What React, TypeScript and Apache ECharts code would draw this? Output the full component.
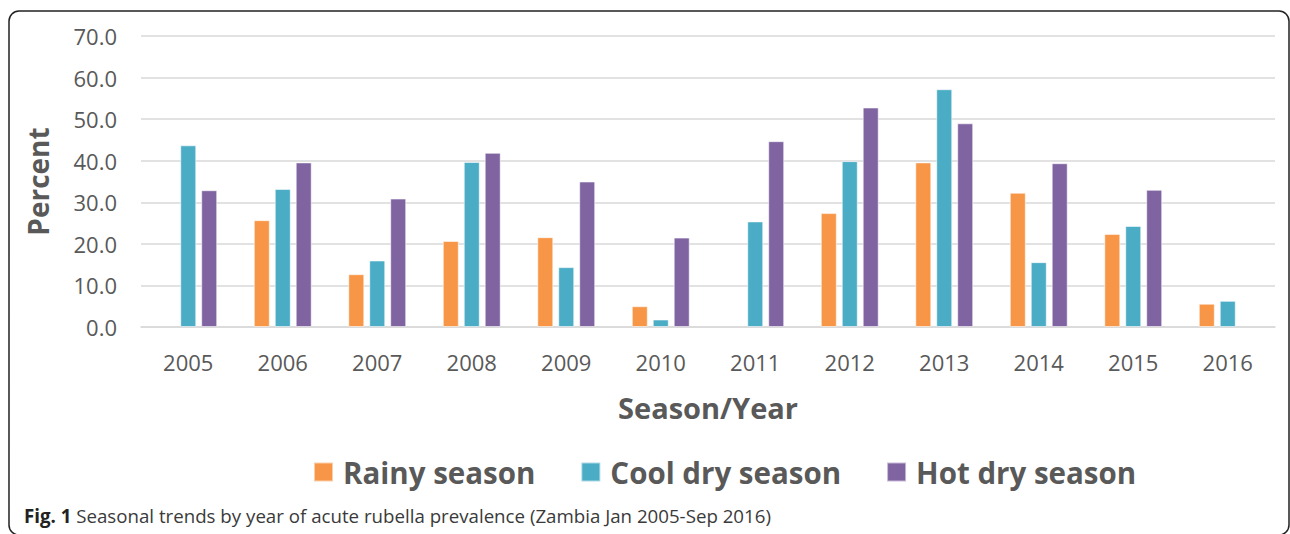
import React, { useEffect, useRef } from "react";
import * as echarts from "echarts";

const years = ["2005", "2006", "2007", "2008", "2009", "2010", "2011", "2012", "2013", "2014", "2015", "2016"];
const rainy = [null, 25.7, 12.7, 20.7, 21.6, 5.0, null, 27.4, 39.6, 32.3, 22.4, 5.6];
const coolDry = [43.7, 33.2, 16.0, 39.7, 14.4, 1.8, 25.4, 39.9, 57.2, 15.6, 24.3, 6.3];
const hotDry = [32.9, 39.6, 30.9, 41.9, 35.0, 21.5, 44.7, 52.8, 49.0, 39.4, 33.0, null];
const seriesNames = ["Rainy season", "Cool dry season", "Hot dry season"];
const colors = ["#F79646", "#4BACC6", "#8064A2"];

const FONT = "'Open Sans', 'Noto Sans', sans-serif";

export default function App() {
  const ref = useRef<HTMLDivElement>(null);
  useEffect(() => {
    document.body.style.margin = "0";
    const chart = echarts.init(ref.current!, null, { renderer: "svg" });
    const datasets = [rainy, coolDry, hotDry];
    chart.setOption({
      animation: false,
      textStyle: { fontFamily: FONT },
      grid: { left: 141, right: 15, top: 36, bottom: 207, containLabel: false },
      legend: {
        data: seriesNames,
        left: 313,
        top: 457,
        padding: 0,
        itemWidth: 19,
        itemHeight: 19,
        itemGap: 45,
        icon: "rect",
        textStyle: { fontSize: 29.5, fontWeight: "bold", color: "#595959", fontFamily: FONT, padding: [0, 0, 0, 5] },
      },
      xAxis: {
        type: "category",
        data: years,
        axisLine: { show: true, lineStyle: { color: "#d9d9d9", width: 1.5 } },
        axisTick: { show: false },
        axisLabel: { fontSize: 22, color: "#595959", margin: 24 },
        name: "Season/Year",
        nameLocation: "middle",
        nameGap: 66,
        nameTextStyle: { fontSize: 29, fontWeight: "bold", color: "#595959", fontFamily: FONT },
      },
      yAxis: {
        type: "value",
        min: 0,
        max: 70,
        interval: 10,
        axisLine: { show: false },
        axisTick: { show: false },
        splitLine: { lineStyle: { color: "#d9d9d9", width: 1.5 } },
        axisLabel: { fontSize: 22, color: "#595959", margin: 24, formatter: (v: number) => v.toFixed(1) },
        name: "Percent",
        nameLocation: "middle",
        nameGap: 89,
        nameTextStyle: { fontSize: 28, fontWeight: "bold", color: "#595959", fontFamily: FONT },
      },
      series: seriesNames.map((n, i) => ({
        name: n,
        type: "bar",
        data: datasets[i],
        barWidth: 16,
        barGap: "31%",
        itemStyle: { color: colors[i], borderColor: "rgba(255,255,255,0.55)", borderWidth: 1 },
      })),
      graphic: [
        {
          type: "rect",
          shape: { x: 9, y: 11, width: 1280, height: 524, r: 10 },
          style: { fill: "none", stroke: "#222", lineWidth: 1.5 },
          silent: true,
        },
        {
          type: "text",
          left: 24,
          top: 506,
          style: {
            text: "{b|Fig. 1} Seasonal trends by year of acute rubella prevalence (Zambia Jan 2005-Sep 2016)",
            fontSize: 18.7,
            fontFamily: FONT,
            fill: "#3a3a3a",
            rich: {
              b: { fontWeight: "bold", fontSize: 18.7, fontFamily: FONT, fill: "#222" },
            },
          },
        },
      ],
    });
    return () => chart.dispose();
  }, []);
  return <div ref={ref} style={{ width: 1290, height: 534 }} />;
}
